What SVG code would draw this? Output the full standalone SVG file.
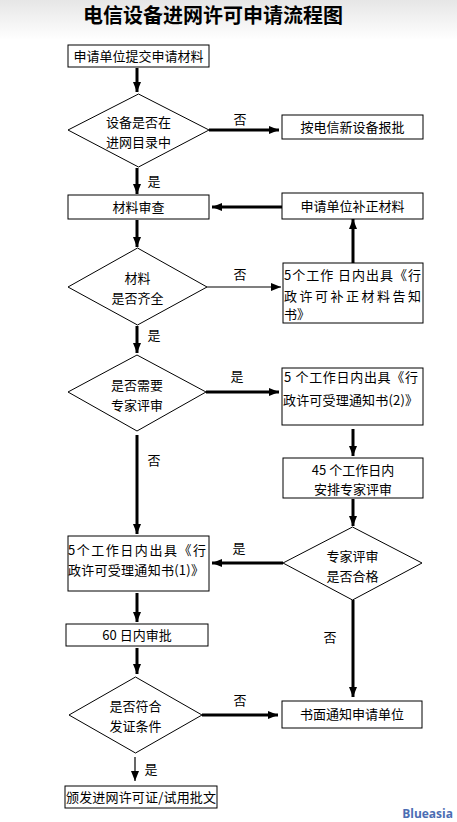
<svg xmlns="http://www.w3.org/2000/svg" width="457" height="822" viewBox="0 0 457 822">
<defs>
<linearGradient id="bg" x1="0" y1="0" x2="0" y2="1">
<stop offset="0" stop-color="#e6e6e6"/>
<stop offset="1" stop-color="#ffffff"/>
</linearGradient>
<marker id="ah" markerUnits="userSpaceOnUse" markerWidth="10" markerHeight="10" viewBox="0 0 10 10" refX="10" refY="5" orient="auto">
<path d="M0,1 L10,5 L0,9 Z" fill="#000"/>
</marker>
<style>
.t{font-family:"Noto Sans CJK SC","Liberation Sans",sans-serif;font-size:13px;fill:#000}
.c{text-anchor:middle}
.b{fill:#fff;stroke:#000;stroke-width:1}
.k{stroke:#000;stroke-width:3;fill:none}
.n{stroke:#000;stroke-width:1.2;fill:none}
</style>
</defs>
<rect x="0" y="0" width="457" height="40" fill="url(#bg)"/>
<text x="213" y="23" class="c" style="font-family:'Noto Sans CJK SC',sans-serif;font-size:20px;font-weight:bold">电信设备进网许可申请流程图</text>

<g id="connectors">
<line x1="137" y1="68" x2="137" y2="92" class="k" marker-end="url(#ah)"/>
<line x1="209" y1="130" x2="279" y2="130" class="k" marker-end="url(#ah)"/>
<text x="240" y="124" class="t c">否</text>
<line x1="137" y1="168" x2="137" y2="194" class="k" marker-end="url(#ah)"/>
<text x="154" y="186" class="t c">是</text>
<line x1="282" y1="207" x2="212" y2="207" class="k" marker-end="url(#ah)"/>
<line x1="353" y1="263" x2="353" y2="219" class="k" marker-end="url(#ah)"/>
<line x1="137" y1="220" x2="137" y2="247" class="k" marker-end="url(#ah)"/>
<line x1="207" y1="287" x2="281" y2="287" class="n" marker-end="url(#ah)"/>
<text x="240" y="279" class="t c">否</text>
<line x1="137" y1="326" x2="137" y2="353" class="k" marker-end="url(#ah)"/>
<text x="154" y="340" class="t c">是</text>
<line x1="206" y1="392" x2="279" y2="392" class="k" marker-end="url(#ah)"/>
<text x="237" y="381" class="t c">是</text>
<line x1="353" y1="429" x2="353" y2="456" class="k" marker-end="url(#ah)"/>
<line x1="353" y1="499" x2="353" y2="526" class="k" marker-end="url(#ah)"/>
<line x1="137" y1="435" x2="137" y2="534" class="k" marker-end="url(#ah)"/>
<text x="154" y="465" class="t c">否</text>
<line x1="283" y1="563" x2="212" y2="563" class="k" marker-end="url(#ah)"/>
<text x="239" y="553" class="t c">是</text>
<line x1="137" y1="593" x2="137" y2="622" class="k" marker-end="url(#ah)"/>
<line x1="137" y1="648" x2="137" y2="674" class="k" marker-end="url(#ah)"/>
<line x1="202" y1="715" x2="278" y2="715" class="k" marker-end="url(#ah)"/>
<text x="240" y="705" class="t c">否</text>
<line x1="353" y1="600" x2="353" y2="697" class="k" marker-end="url(#ah)"/>
<text x="330" y="642" class="t c">否</text>
<line x1="135" y1="757" x2="135" y2="781" class="n" marker-end="url(#ah)"/>
<text x="151" y="774" class="t c">是</text>
</g>

<g id="n1"><rect x="68" y="45" width="141" height="22" class="b"/><text x="138.5" y="61" class="t c">申请单位提交申请材料</text></g>
<g id="d1"><polygon points="68,130 138.5,94 209,130 138.5,167" class="b"/><text x="138.5" y="127" class="t c">设备是否在</text><text x="138.5" y="147" class="t c">进网目录中</text></g>
<g id="n2"><rect x="282" y="115" width="141" height="24" class="b"/><text x="352.5" y="132" class="t c">按电信新设备报批</text></g>
<g id="n3"><rect x="68" y="195" width="141" height="24" class="b"/><text x="138.5" y="212" class="t c">材料审查</text></g>
<g id="n4"><rect x="282" y="193" width="141" height="26" class="b"/><text x="352.5" y="211" class="t c">申请单位补正材料</text></g>
<g id="d2"><polygon points="68,287 137.5,248 207,287 137.5,325" class="b"/><text x="137.5" y="283" class="t c">材料</text><text x="137.5" y="303" class="t c">是否齐全</text></g>
<g id="n5"><rect x="283" y="263" width="140" height="60" class="b"/>
<text x="284" y="280" class="t" textLength="137" lengthAdjust="spacing">5个工作 日内出具《行</text>
<text x="284" y="301" class="t" textLength="137" lengthAdjust="spacing">政许可补正材料告知</text>
<text x="284" y="319" class="t">书》</text></g>
<g id="d3"><polygon points="68,392 137,355 206,392 137,431" class="b"/><text x="137" y="390" class="t c">是否需要</text><text x="137" y="410" class="t c">专家评审</text></g>
<g id="n6"><rect x="282" y="368" width="141" height="57" class="b"/>
<text x="284" y="382" class="t" textLength="134" lengthAdjust="spacing">5 个工作日内出具《行</text>
<text x="283" y="405" class="t" textLength="135" lengthAdjust="spacing">政许可受理通知书(2)》</text></g>
<g id="n7"><rect x="283" y="458" width="140" height="40" class="b"/><text x="353" y="475" class="t c">45 个工作日内</text><text x="353" y="494" class="t c">安排专家评审</text></g>
<g id="d4"><polygon points="283,563 352.5,527 422,563 352.5,600" class="b"/><text x="352.5" y="561" class="t c">专家评审</text><text x="352.5" y="581" class="t c">是否合格</text></g>
<g id="n8"><rect x="68" y="536" width="141" height="55" class="b"/>
<text x="68" y="555" class="t" textLength="138" lengthAdjust="spacing">5个工作日内出具《行</text>
<text x="68" y="575" class="t" textLength="136" lengthAdjust="spacing">政许可受理通知书(1)》</text></g>
<g id="n9"><rect x="66" y="624" width="142" height="22" class="b"/><text x="137" y="640" class="t c">60 日内审批</text></g>
<g id="d5"><polygon points="69,715 135.5,677 202,715 135.5,753" class="b"/><text x="135.5" y="711" class="t c">是否符合</text><text x="135.5" y="731" class="t c">发证条件</text></g>
<g id="n10"><rect x="282" y="701" width="140" height="27" class="b"/><text x="352" y="719" class="t c">书面通知申请单位</text></g>
<g id="n11"><rect x="65" y="786" width="152" height="22" class="b"/><text x="141" y="802" class="t c" textLength="150" lengthAdjust="spacing">颁发进网许可证/试用批文</text></g>
<text x="453" y="818" style="font-family:'Open Sans',sans-serif;font-size:12px;font-weight:bold;fill:#4b6db3;text-anchor:end">Blueasia</text>
</svg>
